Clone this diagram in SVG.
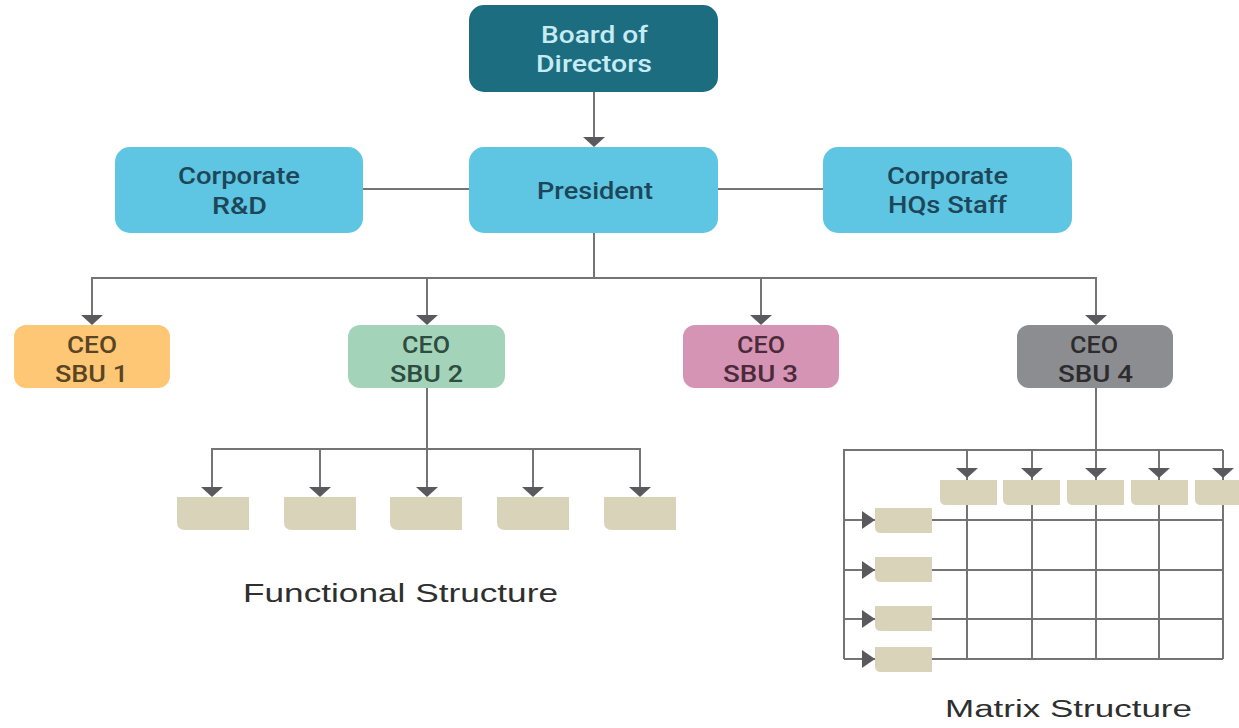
<svg xmlns="http://www.w3.org/2000/svg" width="1239" height="728" viewBox="0 0 1239 728">
<style>
.lbl{font-family:Roboto,"Liberation Sans",Arial,sans-serif;font-size:24px;font-weight:500;text-anchor:middle}
.cap{font-family:"Liberation Sans",Arial,sans-serif;font-size:25px;fill:#2f2f2f;text-anchor:middle}
.ln{stroke:#747474;stroke-width:2;fill:none}
.ah{fill:#5a5a5e}
.tan{fill:#d8d3b9}
</style>
<defs>
<path id="ahd" d="M-11,0 L11,0 L0,10 Z"/>
<path id="ahr" d="M0,-9 L0,9 L13,0 Z"/>
<path id="fb" d="M0,0 H72 V33 H8 Q0,33 0,25 Z"/>
<path id="mb" d="M0,0 H57 V25 H6 Q0,25 0,19 Z"/>
</defs>
<rect width="1239" height="728" fill="#ffffff"/>
<g id="connectors">
<line class="ln" x1="594" y1="92" x2="594" y2="139"/>
<line class="ln" x1="363" y1="189" x2="469" y2="189"/>
<line class="ln" x1="718" y1="189" x2="823" y2="189"/>
<line class="ln" x1="594" y1="233" x2="594" y2="278"/>
<polyline class="ln" points="92,316 92,278 1096,278 1096,316"/>
<line class="ln" x1="427" y1="278" x2="427" y2="316"/>
<line class="ln" x1="761" y1="278" x2="761" y2="316"/>
<use href="#ahd" class="ah" x="594" y="137"/>
<use href="#ahd" class="ah" x="92" y="315"/>
<use href="#ahd" class="ah" x="427" y="315"/>
<use href="#ahd" class="ah" x="761" y="315"/>
<use href="#ahd" class="ah" x="1096" y="315"/>
<line class="ln" x1="427" y1="388" x2="427" y2="449"/>
<polyline class="ln" points="212,488 212,449 640,449 640,488"/>
<line class="ln" x1="320" y1="449" x2="320" y2="488"/>
<line class="ln" x1="427" y1="449" x2="427" y2="488"/>
<line class="ln" x1="533" y1="449" x2="533" y2="488"/>
<use href="#ahd" class="ah" x="212" y="487"/>
<use href="#ahd" class="ah" x="320" y="487"/>
<use href="#ahd" class="ah" x="427" y="487"/>
<use href="#ahd" class="ah" x="533" y="487"/>
<use href="#ahd" class="ah" x="640" y="487"/>
<line class="ln" x1="1096" y1="388" x2="1096" y2="450"/>
<polyline class="ln" points="844,659 844,450 1223,450"/>
<line class="ln" x1="967" y1="450" x2="967" y2="659"/>
<line class="ln" x1="1032" y1="450" x2="1032" y2="659"/>
<line class="ln" x1="1096" y1="450" x2="1096" y2="659"/>
<line class="ln" x1="1159" y1="450" x2="1159" y2="659"/>
<line class="ln" x1="1223" y1="450" x2="1223" y2="659"/>
<line class="ln" x1="844" y1="520" x2="1223" y2="520"/>
<line class="ln" x1="844" y1="570" x2="1223" y2="570"/>
<line class="ln" x1="844" y1="619" x2="1223" y2="619"/>
<line class="ln" x1="844" y1="659" x2="1223" y2="659"/>
<use href="#ahd" class="ah" x="967" y="468"/>
<use href="#ahd" class="ah" x="1032" y="468"/>
<use href="#ahd" class="ah" x="1096" y="468"/>
<use href="#ahd" class="ah" x="1159" y="468"/>
<use href="#ahd" class="ah" x="1223" y="468"/>
<use href="#ahr" class="ah" x="862" y="520"/>
<use href="#ahr" class="ah" x="862" y="570"/>
<use href="#ahr" class="ah" x="862" y="619"/>
<use href="#ahr" class="ah" x="862" y="659"/>
</g>
<g id="board">
<rect x="469" y="5" width="249" height="87" rx="15" fill="#1d6d80"/>
<text class="lbl" fill="#c6ebf3" x="594.5" y="43" textLength="107" lengthAdjust="spacingAndGlyphs">Board of</text>
<text class="lbl" fill="#c6ebf3" x="594" y="72" textLength="116" lengthAdjust="spacingAndGlyphs">Directors</text>
</g>
<g id="president">
<rect x="469" y="147" width="249" height="86" rx="15" fill="#5ec5e2"/>
<text class="lbl" fill="#1d4658" x="595" y="199" textLength="116" lengthAdjust="spacingAndGlyphs">President</text>
</g>
<g id="corp-rd">
<rect x="115" y="147" width="248" height="86" rx="15" fill="#5ec5e2"/>
<text class="lbl" fill="#1d4658" x="239" y="184" textLength="122" lengthAdjust="spacingAndGlyphs">Corporate</text>
<text class="lbl" fill="#1d4658" x="239.5" y="214" textLength="55" lengthAdjust="spacingAndGlyphs">R&amp;D</text>
</g>
<g id="corp-hq">
<rect x="823" y="147" width="249" height="86" rx="15" fill="#5ec5e2"/>
<text class="lbl" fill="#1d4658" x="947.5" y="184" textLength="121" lengthAdjust="spacingAndGlyphs">Corporate</text>
<text class="lbl" fill="#1d4658" x="947.5" y="213" textLength="119" lengthAdjust="spacingAndGlyphs">HQs Staff</text>
</g>
<g id="sbu1">
<rect x="14" y="325" width="156" height="63" rx="12" fill="#fdc775"/>
<text class="lbl" fill="#5a4424" x="92" y="353" textLength="50" lengthAdjust="spacingAndGlyphs">CEO</text>
<text class="lbl" fill="#5a4424" x="91.5" y="382" textLength="73" lengthAdjust="spacingAndGlyphs">SBU 1</text>
</g>
<g id="sbu2">
<rect x="348" y="325" width="157" height="63" rx="12" fill="#a3d4b9"/>
<text class="lbl" fill="#2e4c3f" x="426" y="353" textLength="48" lengthAdjust="spacingAndGlyphs">CEO</text>
<text class="lbl" fill="#2e4c3f" x="426.5" y="382" textLength="73" lengthAdjust="spacingAndGlyphs">SBU 2</text>
</g>
<g id="sbu3">
<rect x="683" y="325" width="156" height="63" rx="12" fill="#d694b4"/>
<text class="lbl" fill="#4b2a3b" x="761" y="353" textLength="48" lengthAdjust="spacingAndGlyphs">CEO</text>
<text class="lbl" fill="#4b2a3b" x="760.5" y="382" textLength="75" lengthAdjust="spacingAndGlyphs">SBU 3</text>
</g>
<g id="sbu4">
<rect x="1017" y="325" width="156" height="63" rx="12" fill="#8c8d90"/>
<text class="lbl" fill="#2c2c2f" x="1094" y="353" textLength="48" lengthAdjust="spacingAndGlyphs">CEO</text>
<text class="lbl" fill="#2c2c2f" x="1095.5" y="382" textLength="75" lengthAdjust="spacingAndGlyphs">SBU 4</text>
</g>
<g id="functional">
<use href="#fb" class="tan" x="177" y="497"/>
<use href="#fb" class="tan" x="284" y="497"/>
<use href="#fb" class="tan" x="390" y="497"/>
<use href="#fb" class="tan" x="497" y="497"/>
<use href="#fb" class="tan" x="604" y="497"/>
<text class="cap" x="400.5" y="602" textLength="315" lengthAdjust="spacingAndGlyphs">Functional Structure</text>
</g>
<g id="matrix">
<use href="#mb" class="tan" x="940" y="480"/>
<use href="#mb" class="tan" x="1003" y="480"/>
<use href="#mb" class="tan" x="1067" y="480"/>
<use href="#mb" class="tan" x="1131" y="480"/>
<use href="#mb" class="tan" x="1195" y="480"/>
<use href="#mb" class="tan" x="875" y="508"/>
<use href="#mb" class="tan" x="875" y="557"/>
<use href="#mb" class="tan" x="875" y="606"/>
<use href="#mb" class="tan" x="875" y="647"/>
<text class="cap" style="font-size:23px" x="1068.5" y="717" textLength="247" lengthAdjust="spacingAndGlyphs">Matrix Structure</text>
</g>
</svg>
